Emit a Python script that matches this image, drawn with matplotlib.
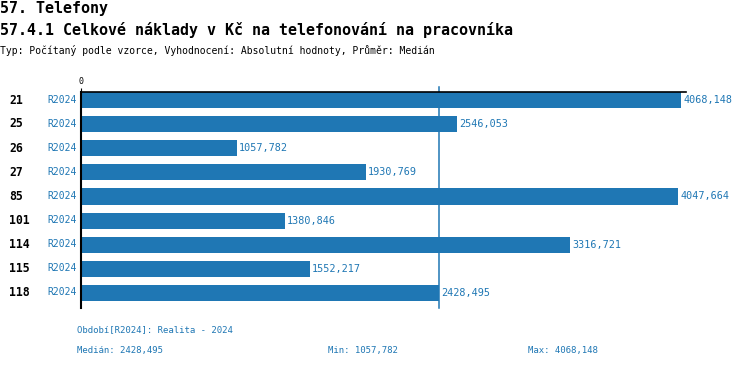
import numpy as np
import matplotlib
matplotlib.use("Agg")
import matplotlib.pyplot as plt

rows = ["21", "25", "26", "27", "85", "101", "114", "115", "118"]
period = ["R2024"] * 9
values = [4068.148, 2546.053, 1057.782, 1930.769, 4047.664,
          1380.846, 3316.721, 1552.217, 2428.495]
median_val = 2428.495
min_val = 1057.782
max_val = 4068.148

blue = "#1f77b4"
mono = "DejaVu Sans Mono"
plt.rcParams["font.family"] = mono

W, H = 750, 368
fig = plt.figure(figsize=(W / 100, H / 100), dpi=100)

# axes in pixel coords: left 81, right 686, top 92, bottom 308
top_px, bot_px = 92, 308
ax = fig.add_axes([81 / W, 1 - bot_px / H, (686 - 81) / W, (bot_px - top_px) / H])
scale = (681 - 81) / max_val
ax.set_xlim(0, (686 - 81) / scale)
ax.set_ylim(len(rows) - 1 + 0.625, -0.333)

y = np.arange(len(rows))
ax.barh(y, values, height=0.67, color=blue, zorder=3)
# median line sticks out a little above the top axis
ax.plot([median_val, median_val], [len(rows) - 1 + 0.625, -0.55], color=blue,
        lw=1.1, clip_on=False, zorder=1)

for i, v in enumerate(values):
    ax.text(v + 15, i, f"{v:.3f}".replace(".", ","), color=blue, fontsize=7.3,
            va="center", ha="left")

for s in ["right", "bottom"]:
    ax.spines[s].set_visible(False)
ax.spines["left"].set_linewidth(1.5)
ax.spines["top"].set_linewidth(1.2)
ax.spines["left"].set_zorder(4)
ax.spines["top"].set_zorder(4)
ax.set_yticks([])
ax.xaxis.tick_top()
ax.set_xticks([0])
ax.set_xticklabels(["0"], fontsize=6)
ax.tick_params(axis="x", length=3, pad=1)

# row labels
for i, (r, p) in enumerate(zip(rows, period)):
    yy = 1 - (92 + 8 + 24 * i) / H
    fig.text(9 / W, yy, r, fontsize=8.3, fontweight="bold", va="center", ha="left")
    fig.text(77 / W, yy, p, fontsize=7, color=blue, va="center", ha="right")

fig.text(0, 1 - 8 / H, "57. Telefony", fontsize=10.8, fontweight="bold", va="center")
fig.text(0, 1 - 30 / H, "57.4.1 Celkové náklady v Kč na telefonování na pracovníka",
         fontsize=10.8, fontweight="bold", va="center")
fig.text(0, 1 - 50 / H, "Typ: Počítaný podle vzorce, Vyhodnocení: Absolutní hodnoty, Průměr: Medián",
         fontsize=7, va="center")

fig.text(77 / W, 1 - 330 / H, "Období[R2024]: Realita - 2024", fontsize=6.5, color=blue, va="center")
fig.text(77 / W, 1 - 350 / H, "Medián: " + f"{median_val:.3f}".replace(".", ","),
         fontsize=6.5, color=blue, va="center")
fig.text(328 / W, 1 - 350 / H, "Min: " + f"{min_val:.3f}".replace(".", ","),
         fontsize=6.5, color=blue, va="center")
fig.text(528 / W, 1 - 350 / H, "Max: " + f"{max_val:.3f}".replace(".", ","),
         fontsize=6.5, color=blue, va="center")

fig.savefig("out.png", dpi=100)
